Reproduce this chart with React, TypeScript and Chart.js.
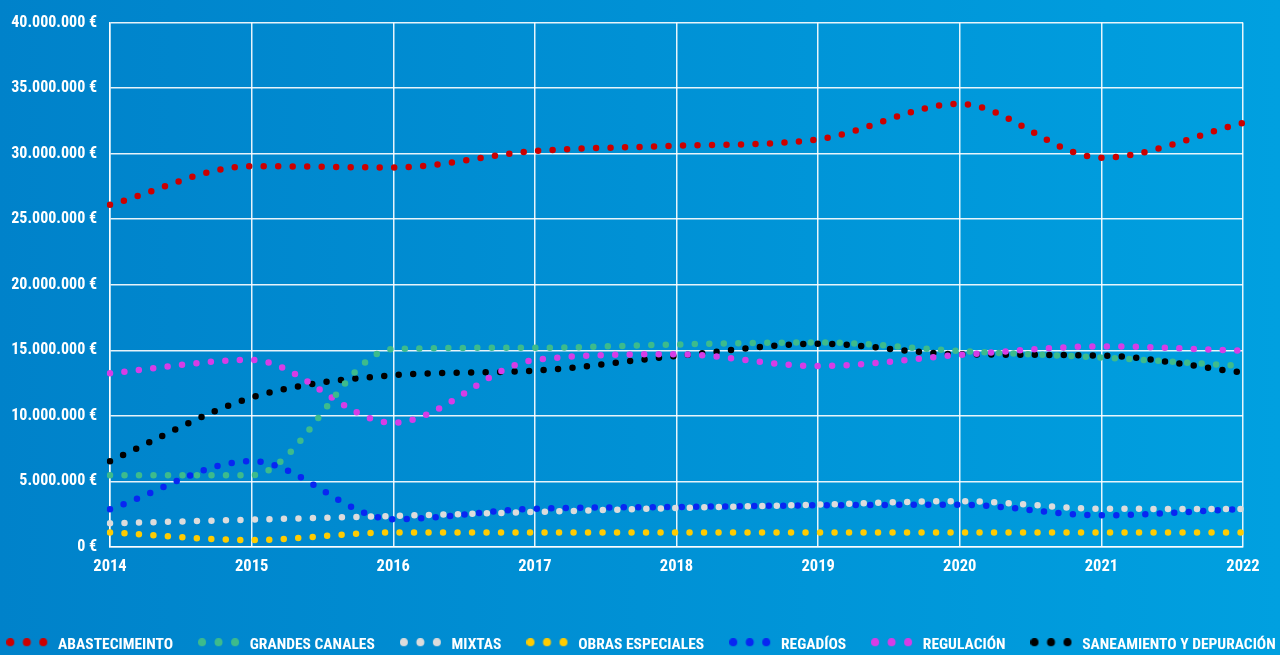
import React, { useEffect, useRef } from 'react';
import { Chart, registerables } from 'chart.js';

Chart.register(...registerables);

const years = ['2014', '2015', '2016', '2017', '2018', '2019', '2020', '2021', '2022'];

const seriesNames = [
  'ABASTECIMEINTO',
  'GRANDES CANALES',
  'MIXTAS',
  'OBRAS ESPECIALES',
  'REGADÍOS',
  'REGULACIÓN',
  'SANEAMIENTO Y DEPURACIÓN',
];

const seriesColors = ['#cc0000', '#3dbb8c', '#dcdcdc', '#ffcc00', '#0826f2', '#d63de6', '#000000'];

const abastecimiento = [26100000, 29050000, 28950000, 30200000, 30600000, 31100000, 33800000, 29700000, 32350000];
const grandesCanales = [5470000, 5480000, 15100000, 15200000, 15450000, 15600000, 14950000, 14450000, 13800000];
const mixtas = [1810000, 2090000, 2370000, 2670000, 2970000, 3230000, 3500000, 2920000, 2900000];
const obrasEspeciales = [1110000, 530000, 1110000, 1110000, 1110000, 1110000, 1110000, 1110000, 1110000];
const regadios = [2870000, 6550000, 2120000, 2920000, 3050000, 3180000, 3220000, 2420000, 2900000];
const regulacion = [13260000, 14270000, 9480000, 14270000, 14700000, 13800000, 14650000, 15300000, 14970000];
const saneamiento = [6550000, 11400000, 13100000, 13450000, 14570000, 15500000, 14700000, 14600000, 13300000];

const seriesValues = [abastecimiento, grandesCanales, mixtas, obrasEspeciales, regadios, regulacion, saneamiento];

const yMin = 0;
const yMax = 40000000;
const yStep = 5000000;

const FONT_CANDIDATES = [
  'Roboto Condensed',
  'Liberation Sans Narrow',
  'Open Sans Condensed',
  'DejaVu Sans Condensed',
  'Liberation Sans',
  'Roboto',
];

// canvas is a little wider than the page so the one-row legend can spread like the original
const EXTRA = 20;

function formatEuro(v: number): string {
  const s = Math.round(v).toString().replace(/\B(?=(\d{3})+(?!\d))/g, '.');
  return s + ' €';
}

function pickFont(ctx: CanvasRenderingContext2D): string {
  const probe = 'ABASTECIMEINTO 0123456789 mmwwii';
  ctx.font = 'bold 20px monospace';
  const mono = ctx.measureText(probe).width;
  ctx.font = 'bold 20px serif';
  const serif = ctx.measureText(probe).width;
  for (const f of FONT_CANDIDATES) {
    ctx.font = `bold 20px "${f}", monospace`;
    const a = ctx.measureText(probe).width;
    ctx.font = `bold 20px "${f}", serif`;
    const b = ctx.measureText(probe).width;
    if (Math.abs(a - mono) > 0.5 || Math.abs(b - serif) > 0.5) return `"${f}"`;
  }
  return 'sans-serif';
}

function sizeFor(ctx: CanvasRenderingContext2D, family: string, text: string, target: number): number {
  ctx.font = `bold 20px ${family}`;
  const w = ctx.measureText(text).width;
  return Math.round(((20 * target) / w) * 2) / 2;
}

function dotsImage(color: string): HTMLCanvasElement {
  const c = document.createElement('canvas');
  c.width = 42;
  c.height = 14;
  const ctx = c.getContext('2d')!;
  ctx.fillStyle = color;
  for (let i = 0; i < 3; i++) {
    ctx.beginPath();
    ctx.arc(4 + i * 16.5, 4, 4, 0, Math.PI * 2);
    ctx.fill();
  }
  return c;
}

export default function App() {
  const canvasRef = useRef<HTMLCanvasElement | null>(null);

  useEffect(() => {
    document.body.style.margin = '0';
    const canvas = canvasRef.current;
    if (!canvas) return;
    const mctx = document.createElement('canvas').getContext('2d')!;
    const family = pickFont(mctx);
    const legendSize = Math.min(22, sizeFor(mctx, family, 'ABASTECIMEINTO', 116));
    const ySize = Math.min(20, sizeFor(mctx, family, '40.000.000 €', 87));
    const xSize = Math.min(20, sizeFor(mctx, family, '2014', 33));
    const W = 1280 + 2 * EXTRA;
    const boxW = 46;

    // legend item spacing so the single row spans the page width
    mctx.font = `bold ${legendSize}px ${family}`;
    let itemsSum = 0;
    seriesNames.forEach((n) => {
      itemsSum += boxW + legendSize / 2 + mctx.measureText(n).width;
    });
    const legendPad = Math.max(6, Math.min(Math.floor((W - 2 - itemsSum) / 8), Math.floor((1276 - itemsSum) / 6)));

    const legendH = legendSize + legendPad + 10;
    const H = Math.round(645.5 + legendSize / 2 + 10);
    const xAxisH = H - legendH - 547;
    canvas.width = W;
    canvas.height = H;
    canvas.style.width = W + 'px';
    canvas.style.height = H + 'px';

    const images = seriesColors.map((c) => dotsImage(c));

    const chart = new Chart(canvas, {
      type: 'line',
      data: {
        labels: years,
        datasets: seriesNames.map((name, i) => ({
          label: name,
          data: seriesValues[i],
          borderColor: seriesColors[i],
          backgroundColor: seriesColors[i],
          borderWidth: 6.5,
          borderDash: [0, 14.5],
          borderCapStyle: 'round' as const,
          cubicInterpolationMode: 'monotone' as const,
          pointRadius: 0,
          pointHoverRadius: 0,
          fill: false,
          yAxisID: 'y',
        })),
      },
      options: {
        responsive: false,
        animation: false,
        devicePixelRatio: 1,
        layout: { padding: { top: 18, right: 0, left: 0, bottom: 0 } },
        plugins: {
          tooltip: { enabled: false },
          legend: {
            position: 'bottom',
            labels: {
              color: '#ffffff',
              font: { family, size: legendSize, weight: 'bold' },
              usePointStyle: true,
              pointStyleWidth: boxW,
              padding: legendPad,
              generateLabels: () =>
                seriesNames.map((name, i) => ({
                  text: name,
                  fontColor: '#ffffff',
                  fillStyle: seriesColors[i],
                  strokeStyle: 'rgba(0,0,0,0)',
                  lineWidth: 0,
                  pointStyle: images[i] as any,
                  hidden: false,
                  datasetIndex: i,
                })),
            },
          },
        },
        scales: {
          x: {
            type: 'category',
            offset: false,
            grid: { color: 'rgba(255,255,255,0.9)', lineWidth: 1.5, drawTicks: false },
            border: { color: 'rgba(255,255,255,0.9)', width: 1.5 },
            ticks: {
              color: '#ffffff',
              font: { family, size: xSize, weight: 'bold' },
              padding: 10,
              maxRotation: 0,
              autoSkip: false,
            },
            afterFit: (scale: any) => {
              scale.height = xAxisH;
            },
          },
          y: {
            min: yMin,
            max: yMax,
            grid: { color: 'rgba(255,255,255,0.9)', lineWidth: 1.5, drawTicks: false },
            border: { color: 'rgba(255,255,255,0.9)', width: 1.5 },
            ticks: {
              stepSize: yStep,
              color: '#ffffff',
              font: { family, size: ySize, weight: 'bold' },
              padding: 13,
              callback: (v: any) => formatEuro(Number(v)),
            },
            afterFit: (scale: any) => {
              scale.width = 110 + EXTRA;
            },
          },
          yRight: {
            position: 'right',
            display: true,
            min: yMin,
            max: yMax,
            grid: { display: false, drawOnChartArea: false },
            border: { display: false },
            ticks: { display: false },
            afterFit: (scale: any) => {
              scale.width = 37 + EXTRA;
            },
          },
        },
      },
    });
    return () => chart.destroy();
  }, []);

  return (
    <div
      style={{
        position: 'fixed',
        left: 0,
        top: 0,
        width: 1280,
        height: 700,
        background: 'linear-gradient(to right, #0082ca, #00a0e0)',
        overflow: 'hidden',
      }}
    >
      <canvas
        ref={canvasRef}
        width={1280 + 2 * EXTRA}
        height={663}
        style={{ display: 'block', position: 'absolute', left: -EXTRA, top: 0, width: 1280 + 2 * EXTRA, height: 663 }}
      />
    </div>
  );
}
